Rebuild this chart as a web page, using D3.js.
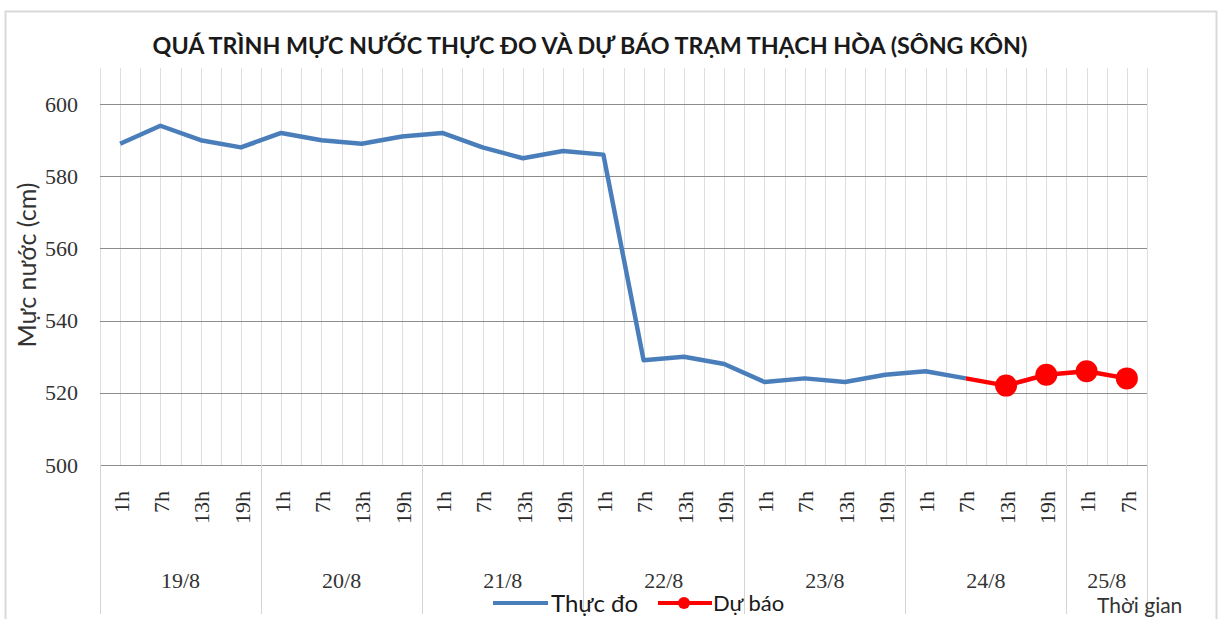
<!DOCTYPE html>
<html>
<head>
<meta charset="utf-8">
<script src="https://cdn.jsdelivr.net/npm/d3@7"></script>
<style>
  body { margin: 0; background: #fff; }
  svg { display: block; }
</style>
</head>
<body>
<svg id="chart" width="1223" height="619"></svg>
<script>
// days and hours on the x axis
const days = ["19/8", "20/8", "21/8", "22/8", "23/8", "24/8", "25/8"];
const hours = ["1h", "7h", "13h", "19h"];
// observed water level (cm), 19/8 1h .. 24/8 7h
const observed = [589, 594, 590, 588, 592, 590, 589, 591, 592, 588, 585, 587,
                  586, 529, 530, 528, 523, 524, 523, 525, 526, 524];
// forecast, 24/8 7h .. 25/8 7h (first point joins the observed line)
const forecast = [524, 522, 525, 526, 524];
const yTicks = [500, 520, 540, 560, 580, 600];

// build category list: 4 per day, last day only 1h and 7h
let cats = [];
days.forEach(function (d, i) {
    let hs = (i === days.length - 1) ? hours.slice(0, 2) : hours;
    hs.forEach(function (h) {
        cats.push({ key: d + " " + h, day: d, hour: h });
    });
});

const svg = d3.select("#chart");
const plotL = 100, plotR = 1147, plotT = 68, plotB = 465;
const serif = "'Liberation Serif', 'DejaVu Serif', serif";
const sans = "Lato, 'Open Sans', sans-serif";

// outer frame
svg.append("rect")
    .attr("x", 5.5).attr("y", 11.5)
    .attr("width", 1211).attr("height", 620)
    .attr("fill", "#fff").attr("stroke", "#d9d9d9").attr("stroke-width", 2);

let x = d3.scaleBand()
    .domain(cats.map(d => d.key))
    .range([plotL, plotR]);
let bw = x.bandwidth();
let y = d3.scaleLinear().domain([500, 610]).range([plotB, plotT]);

function cx(i) { return x(cats[i].key) + bw / 2; }

// vertical grid: every half category
let g = svg.append("g");
for (let i = 0; i <= cats.length * 2; i++) {
    let xx = Math.round(plotL + i * bw / 2) + 0.5;
    g.append("line")
        .attr("x1", xx).attr("x2", xx)
        .attr("y1", plotT).attr("y2", plotB)
        .attr("stroke", "#dedede").attr("stroke-width", 1);
}

// horizontal grid
g.selectAll(".hgrid")
    .data(yTicks)
    .enter().append("line")
    .attr("x1", plotL).attr("x2", plotR)
    .attr("y1", d => Math.round(y(d)) + 0.5)
    .attr("y2", d => Math.round(y(d)) + 0.5)
    .attr("stroke", "#8c8c8c").attr("stroke-width", 1);

// y axis labels
let yAxis = d3.axisLeft(y).tickValues(yTicks).tickSize(0).tickPadding(22);
let ya = svg.append("g").attr("transform", "translate(" + plotL + ",0)").call(yAxis);
ya.select(".domain").remove();
ya.selectAll("text")
    .attr("font-family", serif)
    .attr("font-size", 22).attr("fill", "#333");

// day separators extend through label area
let dayStart = [];
cats.forEach(function (c, i) {
    if (c.hour === "1h") dayStart.push(i);
});
svg.selectAll(".dsep")
    .data(dayStart.concat([cats.length]))
    .enter().append("line")
    .attr("x1", d => Math.round(plotL + d * bw) + 0.5)
    .attr("x2", d => Math.round(plotL + d * bw) + 0.5)
    .attr("y1", plotB).attr("y2", 614)
    .attr("stroke", "#d4d4d4").attr("stroke-width", 1);

// hour labels (rotated)
let xAxis = d3.axisBottom(x).tickSize(0).tickFormat(k => k.split(" ")[1]);
let xa = svg.append("g").attr("transform", "translate(0," + plotB + ")").call(xAxis);
xa.select(".domain").remove();
xa.selectAll("text")
    .attr("font-family", serif)
    .attr("font-size", 22).attr("fill", "#2b2b2b")
    .attr("transform", "translate(1,26) rotate(-90)")
    .attr("text-anchor", "end")
    .attr("x", 0).attr("y", 0).attr("dy", "0.35em");

// day labels
svg.selectAll(".daylab")
    .data(days)
    .enter().append("text")
    .attr("x", function (d) {
        let idx = cats.filter(c => c.day === d).map(c => cats.indexOf(c));
        return (cx(idx[0]) + cx(idx[idx.length - 1])) / 2;
    })
    .attr("y", 588)
    .attr("text-anchor", "middle")
    .attr("font-family", serif)
    .attr("font-size", 22).attr("fill", "#333")
    .text(d => d);

// observed line
let line = d3.line().x(d => cx(d.i)).y(d => y(d.v));
let obsData = observed.map((v, i) => ({ i: i, v: v }));
svg.append("path")
    .datum(obsData)
    .attr("d", line)
    .attr("fill", "none").attr("stroke", "#4a7ebb")
    .attr("stroke-width", 4.5).attr("stroke-linejoin", "round");

// forecast line and markers
let fStart = observed.length - 1;
let fcData = forecast.map((v, i) => ({ i: fStart + i, v: v }));
svg.append("path")
    .datum(fcData)
    .attr("d", line)
    .attr("fill", "none").attr("stroke", "#ff0000")
    .attr("stroke-width", 4.5).attr("stroke-linejoin", "round");
svg.selectAll(".mk")
    .data(fcData.slice(1))
    .enter().append("circle")
    .attr("cx", d => cx(d.i)).attr("cy", d => y(d.v))
    .attr("r", 11).attr("fill", "#ff0000");

// title
let title = svg.append("text")
    .attr("x", 590).attr("y", 54)
    .attr("text-anchor", "middle")
    .attr("font-family", sans)
    .attr("font-weight", "bold").attr("font-size", 22).attr("fill", "#1a1a1a")
    .text("QUÁ TRÌNH MỰC NƯỚC THỰC ĐO VÀ DỰ BÁO TRẠM THẠCH HÒA (SÔNG KÔN)");
let tw = title.node().getComputedTextLength();
title.attr("font-size", 22 * 875 / tw);

// y axis title
let yt = svg.append("text")
    .attr("transform", "translate(36,265) rotate(-90)")
    .attr("text-anchor", "middle")
    .attr("font-family", sans)
    .attr("font-size", 22).attr("fill", "#333")
    .text("Mực nước (cm)");
let yw = yt.node().getComputedTextLength();
yt.attr("font-size", 22 * 165 / yw);

// x axis title
svg.append("text")
    .attr("x", 1097).attr("y", 613)
    .attr("font-family", sans)
    .attr("font-size", 21).attr("fill", "#333")
    .text("Thời gian");

// legend
let lg = svg.append("g");
lg.append("line").attr("x1", 493).attr("x2", 548).attr("y1", 603).attr("y2", 603)
    .attr("stroke", "#4a7ebb").attr("stroke-width", 4);
lg.append("text").attr("x", 551).attr("y", 612)
    .attr("font-family", sans)
    .attr("font-size", 24).attr("fill", "#1a1a1a").text("Thực đo");
lg.append("line").attr("x1", 658).attr("x2", 712).attr("y1", 603).attr("y2", 603)
    .attr("stroke", "#ff0000").attr("stroke-width", 4);
lg.append("circle").attr("cx", 684).attr("cy", 603).attr("r", 6).attr("fill", "#ff0000");
lg.append("text").attr("x", 713).attr("y", 611)
    .attr("font-family", sans)
    .attr("font-size", 22).attr("fill", "#1a1a1a").text("Dự báo");
</script>
</body>
</html>
